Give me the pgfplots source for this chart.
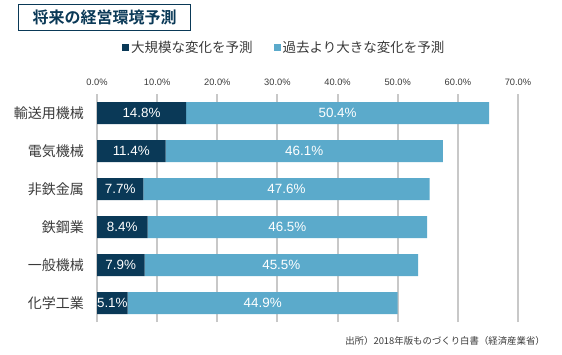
\documentclass[border=0pt]{standalone}
\usepackage{fontspec}
\setmainfont{Liberation Sans}
\newfontfamily\jp{Noto Sans CJK JP}[BoldFont={Noto Sans CJK JP Bold}]
\usepackage{pgfplots}
\usepackage{pgfplotstable}
\pgfplotsset{compat=1.18}
\definecolor{navy}{HTML}{0A3957}
\definecolor{lightb}{HTML}{5BAACB}
\definecolor{gridc}{HTML}{C8C8C8}
\definecolor{txt}{HTML}{3A3A3A}

\pgfplotstableread{
y big past
5 14.8 50.4
4 11.4 46.1
3 7.7 47.6
2 8.4 46.5
1 7.9 45.5
0 5.1 44.9
}\data

\pgfplotsset{common/.style={
  at={(97pt,32pt)}, anchor=south west,
  scale only axis, width=421pt, height=228pt,
  xmin=0, xmax=70, ymin=-0.5, ymax=5.5,
  /pgf/number format/assume math mode=true}}

\begin{document}
\begin{tikzpicture}
\useasboundingbox (0,0) rectangle (562pt,354pt);
% title box
\node[draw=navy, line width=1.6pt, minimum width=172pt, minimum height=26pt, inner sep=0pt,
      text=navy, font=\jp\bfseries\fontsize{16}{18}\selectfont] at (104.5pt,336.5pt) {将来の経営環境予測};
\begin{axis}[
  common,
  xbar stacked, bar width=22pt,
  xtick={0,10,...,70},
  xticklabel pos=upper,
  xticklabel={\pgfmathprintnumber[fixed,fixed zerofill,precision=1]{\tick}\%},
  xticklabel style={font=\fontsize{9.3}{11}\selectfont, text=txt, yshift=5pt},
  ytick={0,1,2,3,4,5},
  yticklabels={化学工業,一般機械,鉄鋼業,非鉄金属,電気機械,輸送用機械},
  yticklabel style={font=\jp\fontsize{14}{16}\selectfont, text=txt, inner sep=0pt, xshift=-13pt},
  axis line style={draw=none},
  major tick length=0pt,
  tick style={draw=none},
  xmajorgrids, ymajorgrids=false,
  major grid style={draw=gridc, line width=2pt},
  legend columns=2,
  legend style={draw=none, fill=none, inner sep=0pt, at={(0.059,1.202)}, anchor=west,
    font=\jp\fontsize{13.5}{15}\selectfont, text=txt,
    /tikz/every even column/.append style={column sep=19pt}},
  legend cell align=left,
  legend image code/.code={\fill[#1] (0pt,-3.5pt) rectangle (7pt,3.5pt);},
]
\addplot[fill=navy, draw=none] table[x=big, y=y] {\data};
\addlegendentry{大規模な変化を予測}
\addplot[fill=lightb, draw=none] table[x=past, y=y] {\data};
\addlegendentry{過去より大きな変化を予測}
\end{axis}
\begin{axis}[
  common, hide axis,
  point meta=explicit,
  nodes near coords={\pgfmathprintnumber[fixed,fixed zerofill,precision=1]{\pgfplotspointmeta}\%},
  every node near coord/.style={anchor=center, text=white, font=\fontsize{13.4}{15}\selectfont, inner sep=0pt},
]
\addplot[draw=none, mark=none] table[x expr=\thisrow{big}/2, y=y, meta=big] {\data};
\addplot[draw=none, mark=none] table[x expr=\thisrow{big}+\thisrow{past}/2, y=y, meta=past] {\data};
\end{axis}
\node[anchor=east, inner sep=0pt, text=txt, font=\jp\fontsize{9.4}{11}\selectfont] at (545pt,13pt) {出所）2018年版ものづくり白書（経済産業省）};
\end{tikzpicture}
\end{document}
